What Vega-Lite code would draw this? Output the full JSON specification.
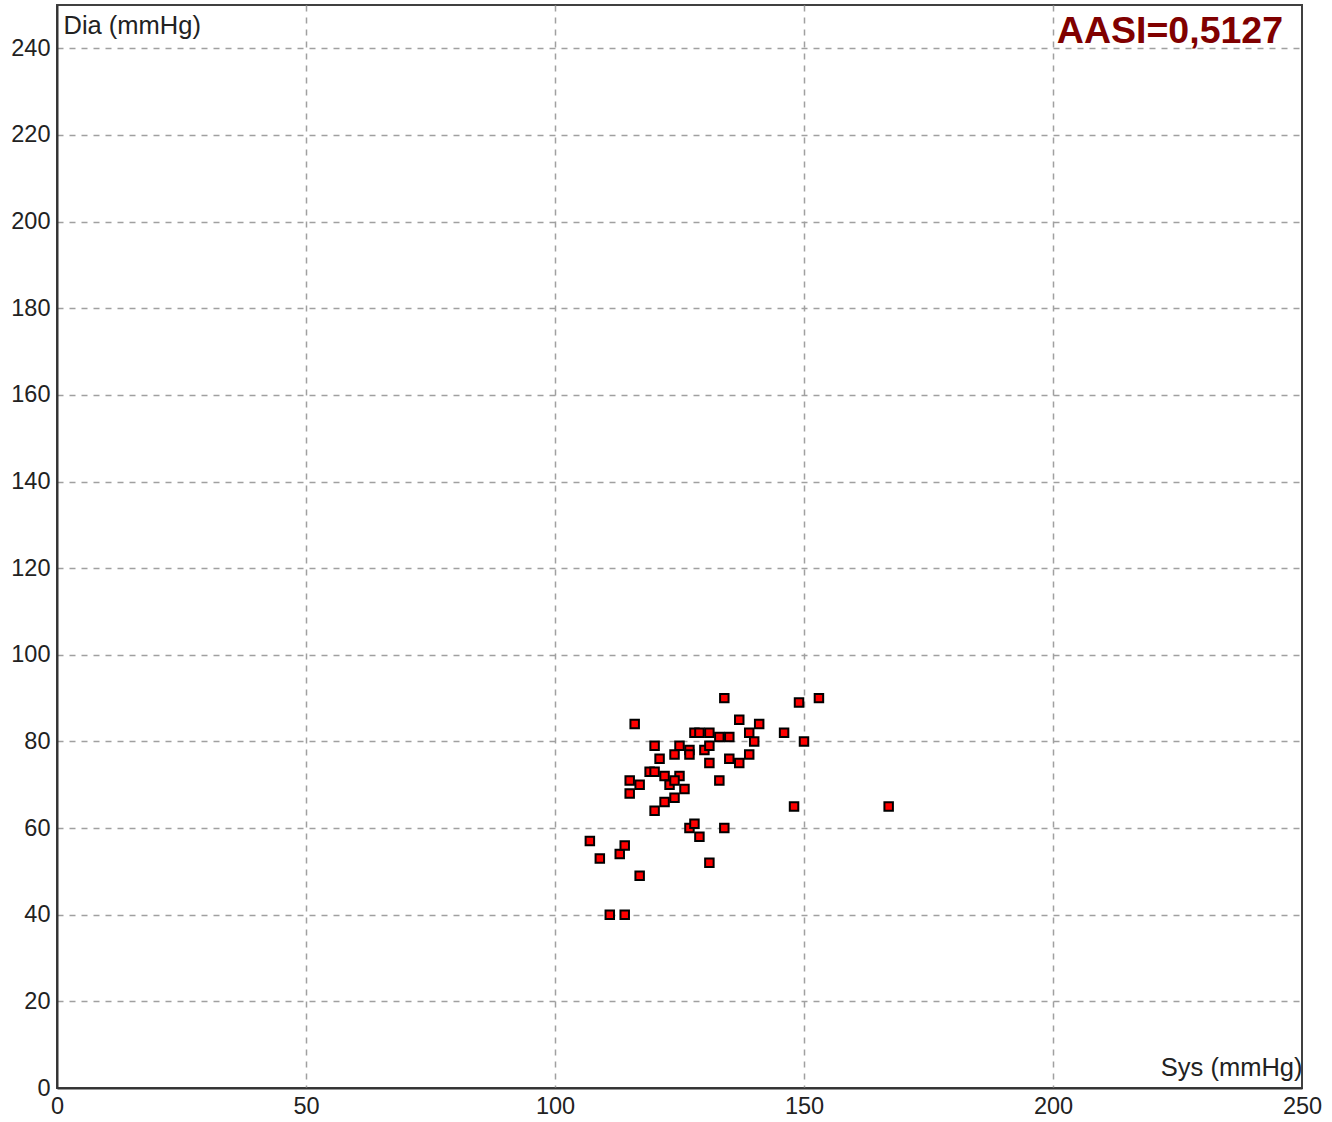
{
  "$schema": "https://vega.github.io/schema/vega-lite/v6.json",
  "width": 1245,
  "height": 1083,
  "autosize": {"type": "none"},
  "padding": {"left": 57, "top": 5, "right": 30, "bottom": 34},
  "background": "white",
  "config": {
    "view": {"stroke": "#404040", "strokeWidth": 2},
    "font": "Liberation Sans",
    "axis": {
      "grid": true,
      "gridColor": "#a0a0a0",
      "gridDash": [6, 6],
      "gridWidth": 1.5,
      "domainColor": "#333333",
      "domainWidth": 2,
      "ticks": false,
      "tickSize": 0,
      "labelFont": "Liberation Sans",
      "labelFontSize": 23.5,
      "labelColor": "#222222",
      "titleFont": "Liberation Sans",
      "titleFontSize": 25.5,
      "titleFontWeight": "normal",
      "titleColor": "#222222"
    }
  },
  "data": {
    "values": [
      {"sys": 107, "dia": 57}, {"sys": 109, "dia": 53}, {"sys": 111, "dia": 40}, {"sys": 114, "dia": 40},
      {"sys": 113, "dia": 54}, {"sys": 114, "dia": 56}, {"sys": 117, "dia": 49}, {"sys": 115, "dia": 71},
      {"sys": 115, "dia": 68}, {"sys": 117, "dia": 70}, {"sys": 116, "dia": 84}, {"sys": 119, "dia": 73},
      {"sys": 120, "dia": 73}, {"sys": 120, "dia": 79}, {"sys": 121, "dia": 76}, {"sys": 120, "dia": 64},
      {"sys": 122, "dia": 72}, {"sys": 123, "dia": 70}, {"sys": 122, "dia": 66}, {"sys": 124, "dia": 67},
      {"sys": 125, "dia": 72}, {"sys": 124, "dia": 71}, {"sys": 126, "dia": 69}, {"sys": 124, "dia": 77},
      {"sys": 125, "dia": 79}, {"sys": 127, "dia": 78}, {"sys": 127, "dia": 77}, {"sys": 127, "dia": 60},
      {"sys": 128, "dia": 61}, {"sys": 129, "dia": 58}, {"sys": 128, "dia": 82}, {"sys": 129, "dia": 82},
      {"sys": 131, "dia": 82}, {"sys": 130, "dia": 78}, {"sys": 131, "dia": 79}, {"sys": 131, "dia": 75},
      {"sys": 131, "dia": 52}, {"sys": 133, "dia": 71}, {"sys": 133, "dia": 81}, {"sys": 134, "dia": 90},
      {"sys": 135, "dia": 81}, {"sys": 135, "dia": 76}, {"sys": 134, "dia": 60}, {"sys": 137, "dia": 85},
      {"sys": 137, "dia": 75}, {"sys": 139, "dia": 82}, {"sys": 140, "dia": 80}, {"sys": 139, "dia": 77},
      {"sys": 141, "dia": 84}, {"sys": 146, "dia": 82}, {"sys": 148, "dia": 65}, {"sys": 149, "dia": 89},
      {"sys": 150, "dia": 80}, {"sys": 153, "dia": 90}, {"sys": 167, "dia": 65}
    ]
  },
  "layer": [
    {
      "mark": {"type": "square", "size": 72, "filled": true, "fill": "#ff0000", "stroke": "#000000", "strokeWidth": 2, "opacity": 1},
      "encoding": {
        "x": {
          "field": "sys", "type": "quantitative",
          "scale": {"domain": [0, 250], "nice": false, "zero": false},
          "axis": {
            "values": [0, 50, 100, 150, 200, 250],
            "gridOpacity": {"condition": {"test": "datum.value === 0 || datum.value === 250", "value": 0}, "value": 1},
            "title": "Sys (mmHg)",
            "titleAlign": "right",
            "titleAnchor": "end",
            "titleX": 1245,
            "titleY": -13,
            "titleBaseline": "alphabetic",
            "labelPadding": 6,
            "labelFlush": false,
            "labelOverlap": false
          }
        },
        "y": {
          "field": "dia", "type": "quantitative",
          "scale": {"domain": [0, 250], "nice": false, "zero": false},
          "axis": {
            "values": [0, 20, 40, 60, 80, 100, 120, 140, 160, 180, 200, 220, 240],
            "gridOpacity": {"condition": {"test": "datum.value === 0", "value": 0}, "value": 1},
            "title": "Dia (mmHg)",
            "titleAngle": 0,
            "titleAlign": "left",
            "titleX": 6,
            "titleY": 28,
            "titleBaseline": "alphabetic",
            "labelPadding": 7,
            "labelFlush": false,
            "labelOverlap": false
          }
        }
      }
    },
    {
      "data": {"values": [{"label": "AASI=0,5127"}]},
      "mark": {"type": "text", "align": "right", "baseline": "alphabetic", "font": "Liberation Sans", "fontSize": 37.5, "fontWeight": "bold", "color": "#800000"},
      "encoding": {
        "x": {"datum": 246.2, "type": "quantitative"},
        "y": {"datum": 241.2, "type": "quantitative"},
        "text": {"field": "label"}
      }
    }
  ]
}
